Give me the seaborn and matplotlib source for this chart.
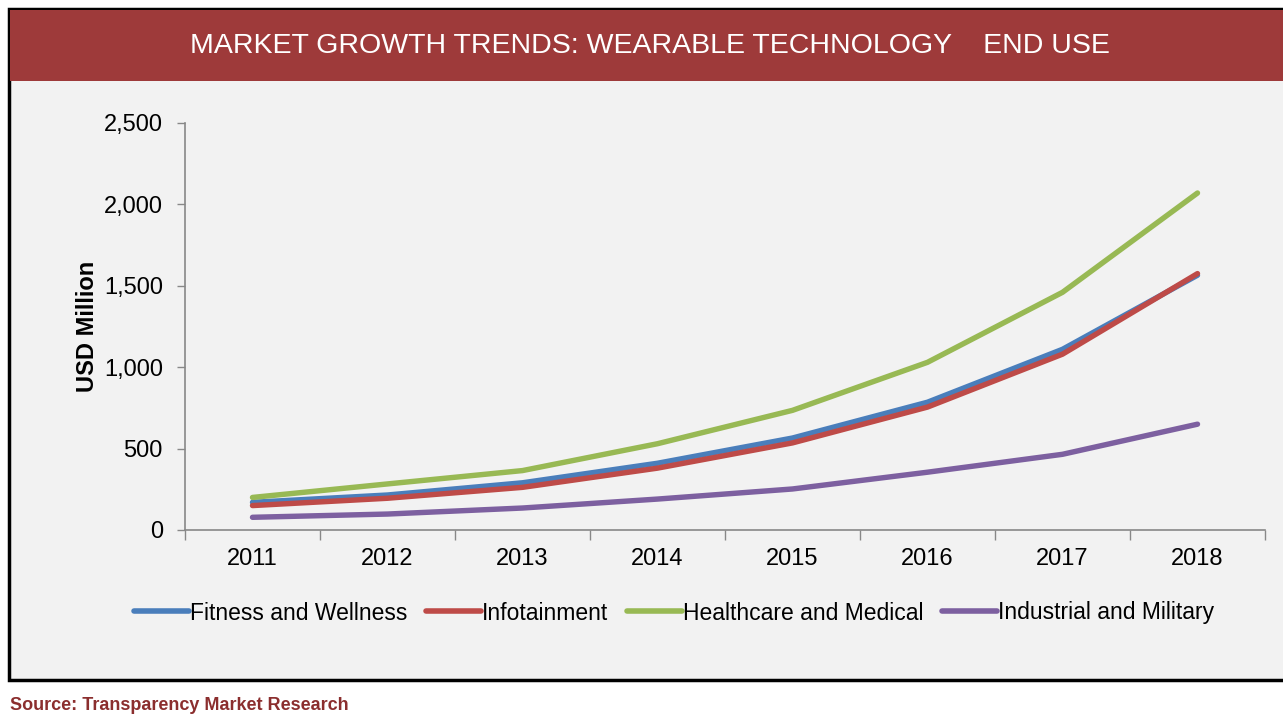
import matplotlib
matplotlib.use("Agg")
import matplotlib.pyplot as plt
from matplotlib.patches import Rectangle
from matplotlib.ticker import FuncFormatter, FixedLocator
import seaborn as sns
import pandas as pd

years = ["2011", "2012", "2013", "2014", "2015", "2016", "2017", "2018"]
fitness = [170, 215, 290, 410, 565, 785, 1110, 1565]
infotainment = [150, 195, 262, 380, 535, 755, 1080, 1575]
healthcare = [200, 283, 365, 530, 735, 1030, 1460, 2070]
industrial = [78, 98, 135, 190, 252, 355, 465, 650]
series_names = ["Fitness and Wellness", "Infotainment", "Healthcare and Medical", "Industrial and Military"]
colors = ["#4a7ebb", "#be4b48", "#98b954", "#7d60a0"]

rows = []
for name, vals in zip(series_names, [fitness, infotainment, healthcare, industrial]):
    for i, (y, v) in enumerate(zip(years, vals)):
        rows.append({"idx": i, "Year": y, "Value": v, "Series": name})
df = pd.DataFrame(rows)

sns.set_theme(style="white")
plt.rcParams["font.family"] = ["Liberation Sans", "DejaVu Sans"]
plt.rcParams["text.color"] = "black"

W, H = 1283, 720
fig = plt.figure(figsize=(W / 100, H / 100), dpi=100)
fig.patch.set_facecolor("white")

# chart panel with black border
fig.patches.append(Rectangle((9 / W, 1 - 680 / H), (W + 10) / W, (680 - 9) / H,
                             transform=fig.transFigure, facecolor="#f2f2f2",
                             edgecolor="black", linewidth=2.5, zorder=-2))
# title band
fig.patches.append(Rectangle((10 / W, 1 - 81 / H), (W) / W, (81 - 10) / H,
                             transform=fig.transFigure, facecolor="#9e3a3a",
                             edgecolor="none", zorder=-1))
fig.text(650 / W, 1 - 46 / H, "MARKET GROWTH TRENDS: WEARABLE TECHNOLOGY    END USE",
         color="white", fontsize=20.5, ha="center", va="center")

ax = fig.add_axes([185 / W, 1 - 530 / H, (1265 - 185) / W, (530 - 123) / H])
ax.set_zorder(2)
ax.set_facecolor("none")
sns.lineplot(data=df, x="idx", y="Value", hue="Series", palette=colors,
             hue_order=series_names, linewidth=3.9, ax=ax, legend=False,
             sort=False)
for ln in ax.lines:
    ln.set_solid_capstyle("round")

ax.set_xlim(-0.5, 7.5)
ax.set_ylim(0, 2500)
ax.set_yticks([0, 500, 1000, 1500, 2000, 2500])
ax.yaxis.set_major_formatter(FuncFormatter(lambda v, p: f"{int(v):,}"))
ax.set_xticks(range(len(years)))
ax.set_xticklabels(years)
ax.xaxis.set_minor_locator(FixedLocator([i + 0.5 for i in range(-1, 8)]))
ax.tick_params(axis="x", which="major", length=0, pad=13, labelsize=17, colors="black")
ax.tick_params(axis="x", which="minor", length=7, width=1, color="#888888", direction="out", bottom=True)
ax.tick_params(axis="y", which="major", length=6, width=1, color="#888888", direction="out",
               labelsize=17, pad=10, left=True)
for lab in ax.get_yticklabels() + ax.get_xticklabels():
    lab.set_color("black")
for s in ["top", "right"]:
    ax.spines[s].set_visible(False)
for s in ["left", "bottom"]:
    ax.spines[s].set_color("#888888")
    ax.spines[s].set_linewidth(1.2)
ax.set_xlabel("")
ax.set_ylabel("USD Million", fontsize=17, fontweight="bold", color="black")
ax.yaxis.set_label_coords((88 - 185) / 1080, 0.5)
ax.yaxis.label.set_va("center")

handles = [plt.Line2D([0], [0], color=c, lw=4, solid_capstyle="round") for c in colors]
leg = fig.legend(handles, series_names, loc="center", bbox_to_anchor=(674 / W, 1 - 613 / H),
                 ncol=4, frameon=False, fontsize=16.5, handlelength=2.4, handletextpad=0.05,
                 columnspacing=0.8)
for t in leg.get_texts():
    t.set_color("black")

fig.text(10 / W, 1 - 706 / H, "Source: Transparency Market Research", color="#8b2e2e",
         fontsize=13, fontweight="bold", ha="left", va="center")

fig.savefig("out.png", dpi=100, facecolor="white")
